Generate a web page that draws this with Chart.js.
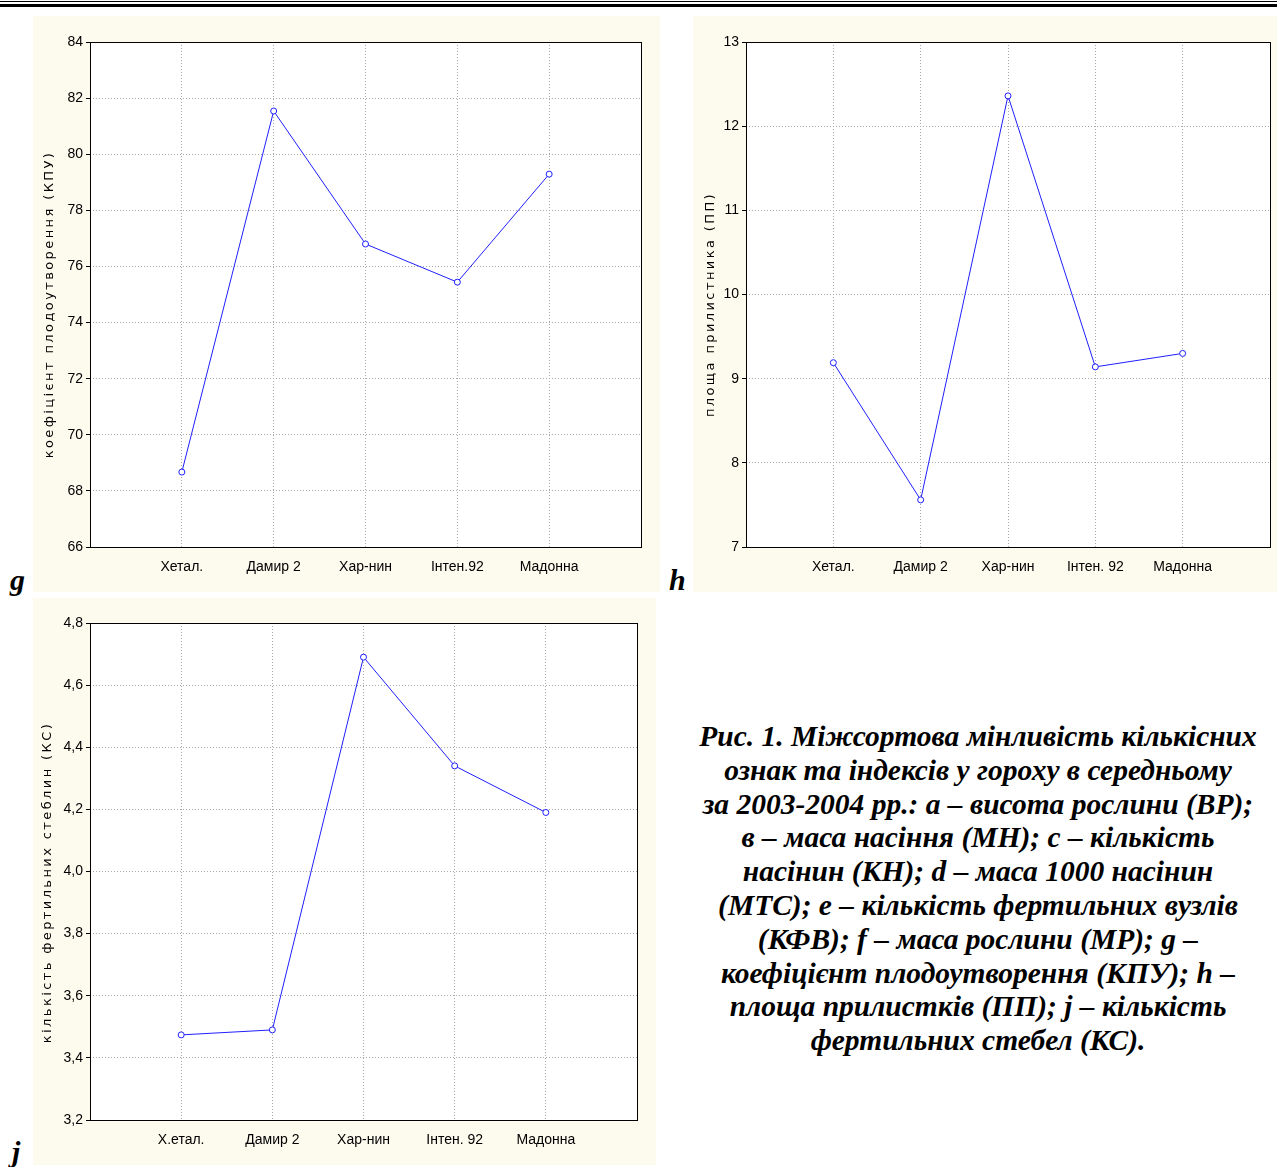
<!DOCTYPE html>
<html>
<head>
<meta charset="utf-8">
<script src="https://cdn.jsdelivr.net/npm/chart.js@4.4.0/dist/chart.umd.min.js"></script>
<style>
    body { margin: 0; background: #fff; width: 1277px; height: 1167px; position: relative; overflow: hidden; }
    .rule1 { position: absolute; left: 0; top: 1px; width: 1277px; height: 1px; background: #000; }
    .rule2 { position: absolute; left: 0; top: 4px; width: 1277px; height: 3px; background: #000; }
    .panel { position: absolute; background: #fdfaee; }
    .letter { position: absolute; font-family: "Liberation Serif", serif; font-weight: bold; font-style: italic; font-size: 30px; }
    .caption { position: absolute; left: 670px; top: 720px; width: 616px; text-align: center;
        font-family: "Liberation Serif", serif; font-weight: bold; font-style: italic; font-size: 29.5px; line-height: 33.8px; }
</style>
</head>
<body>
<div class="rule1"></div>
<div class="rule2"></div>
<div class="panel" style="left:33px;top:16px;width:627px;height:576px"><canvas id="chartG"></canvas></div>
<div class="panel" style="left:693px;top:16px;width:584px;height:576px"><canvas id="chartH"></canvas></div>
<div class="panel" style="left:33px;top:598px;width:623px;height:567px"><canvas id="chartJ"></canvas></div>
<div class="letter" style="left:10px;top:563px">g</div>
<div class="letter" style="left:669px;top:563px">h</div>
<div class="letter" style="left:12px;top:1135px">j</div>
<div class="caption">Рис. 1. Міжсортова мінливість кількісних<br>ознак та індексів у гороху в середньому<br>за 2003-2004 рр.: a – висота рослини (ВР);<br>в – маса насіння (МН); c – кількість<br>насінин (КН); d – маса 1000 насінин<br>(МТС); e – кількість фертильних вузлів<br>(КФВ); f – маса рослини (МР); g –<br>коефіцієнт плодоутворення (КПУ); h –<br>площа прилистків (ПП); j – кількість<br>фертильних стебел (КС).</div>

<script>
var sortG = ["Хетал.", "Дамир 2", "Хар-нин", "Інтен.92", "Мадонна"];
var sortH = ["Хетал.", "Дамир 2", "Хар-нин", "Інтен. 92", "Мадонна"];
var sortJ = ["Х.етал.", "Дамир 2", "Хар-нин", "Інтен. 92", "Мадонна"];

var valuesG = [68.67, 81.54, 76.8, 75.44, 79.29];
var valuesH = [9.19, 7.56, 12.36, 9.14, 9.30];
var valuesJ = [3.474, 3.49, 4.69, 4.34, 4.19];

var titleG = "коефіцієнт плодоутворення (КПУ)";
var titleH = "площа прилистника (ПП)";
var titleJ = "кількість фертильних стеблин (КС)";

var tickFont = { family: "'Liberation Sans Narrow', 'Liberation Sans', Arial", size: 14 };

// white plot area, black frame, spaced-out y title
var boxPlugin = {
    id: "box",
    beforeDraw: function (chart) {
        var a = chart.chartArea, ctx = chart.ctx;
        ctx.save();
        ctx.fillStyle = "#fff";
        ctx.fillRect(a.left, a.top, a.right - a.left, a.bottom - a.top);
        ctx.restore();
    },
    afterDraw: function (chart, args, opts) {
        var a = chart.chartArea, ctx = chart.ctx;
        ctx.save();
        ctx.strokeStyle = "#000";
        ctx.lineWidth = 1;
        ctx.strokeRect(Math.round(a.left) + 0.5, Math.round(a.top) + 0.5, Math.round(a.right - a.left), Math.round(a.bottom - a.top));
        ctx.translate(opts.x, (a.top + a.bottom) / 2 + opts.dy);
        ctx.rotate(-Math.PI / 2);
        ctx.font = "13px 'DejaVu Sans'";
        ctx.letterSpacing = "2.4px";
        ctx.fillStyle = "#000";
        ctx.textAlign = "center";
        ctx.textBaseline = "middle";
        ctx.fillText(opts.text, 0, 0);
        ctx.restore();
    }
};

var ConstruirGrafico = function (id, labels, values, yTitle, yMin, yMax, yStep, yWidth, pad, decimalComma, titleX, titleDy) {
    var ctx = document.getElementById(id).getContext("2d");
    var points = values.map(function (v, i) { return { x: i + 1, y: v }; });
    return new Chart(ctx, {
        type: "line",
        data: {
            datasets: [{
                data: points,
                borderColor: "#2020ff",
                borderWidth: 1,
                backgroundColor: "#fff",
                pointRadius: 3,
                pointBorderWidth: 1,
                pointBorderColor: "#2020ff",
                pointBackgroundColor: "#fff",
                tension: 0
            }]
        },
        options: {
            animation: { duration: 0 },
            responsive: true,
            maintainAspectRatio: false,
            layout: { padding: pad },
            plugins: {
                legend: { display: false },
                tooltip: { enabled: false },
                box: { text: yTitle, x: titleX, dy: titleDy }
            },
            scales: {
                x: {
                    type: "linear",
                    min: 0,
                    max: 6,
                    afterBuildTicks: function (s) {
                        s.ticks = [1, 2, 3, 4, 5].map(function (v) { return { value: v }; });
                    },
                    afterFit: function (s) { s.height = 45; },
                    grid: { color: "#a8a8a8", drawTicks: false },
                    border: { display: false, dash: [1, 2] },
                    ticks: {
                        padding: 12,
                        color: "#000",
                        font: tickFont,
                        maxRotation: 0,
                        callback: function (v) { return labels[v - 1] || ""; }
                    }
                },
                y: {
                    min: yMin,
                    max: yMax,
                    afterFit: function (s) { s.width = yWidth; },
                    grid: { color: "#a8a8a8", tickLength: 4, tickColor: "#000" },
                    border: { display: false, dash: [1, 2] },
                    ticks: {
                        stepSize: yStep,
                        padding: 3,
                        color: "#000",
                        font: tickFont,
                        callback: function (v) {
                            return decimalComma ? v.toFixed(1).replace(".", ",") : String(Math.round(v));
                        }
                    }
                }
            }
        },
        plugins: [boxPlugin]
    });
};

ConstruirGrafico("chartG", sortG, valuesG, titleG, 66, 84, 2, 57, { top: 26, right: 19, left: 0, bottom: 0 }, false, 17, 10);
ConstruirGrafico("chartH", sortH, valuesH, titleH, 7, 13, 1, 53, { top: 26, right: 7, left: 0, bottom: 0 }, false, 18, 10);
ConstruirGrafico("chartJ", sortJ, valuesJ, titleJ, 3.2, 4.8, 0.2, 57, { top: 25, right: 19, left: 0, bottom: 0 }, true, 15, 11);
</script>
</body>
</html>
